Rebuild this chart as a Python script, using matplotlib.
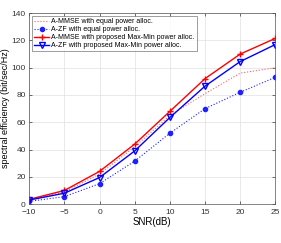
import matplotlib
matplotlib.use('Agg')
import matplotlib.pyplot as plt

snr = [-10, -5, 0, 5, 10, 15, 20, 25]
mmse_equal = [3, 9, 22, 42, 65, 81, 96, 100]
zf_equal = [2, 5.5, 15, 31.5, 52, 70, 82, 93]
mmse_maxmin = [3.5, 10, 24, 44, 68, 92, 110, 121.5]
zf_maxmin = [3, 8, 19.5, 39, 63.5, 86.5, 104.5, 117]

plt.rcParams['font.family'] = 'Liberation Sans'
fig = plt.figure(figsize=(2.81, 2.43), dpi=100)
ax = fig.add_axes([0.104, 0.16, 0.876, 0.786])

ax.plot(snr, mmse_equal, ':', color='#ff6060', lw=0.8,
        label='A-MMSE with equal power alloc.')
ax.plot(snr, zf_equal, ':', color='#2020ff', lw=0.8, marker='o', ms=3,
        label='A-ZF with equal power alloc.')
ax.plot(snr, mmse_maxmin, '-', color='red', lw=1.0, marker='+', ms=4,
        label='A-MMSE with proposed Max-Min power alloc.')
ax.plot(snr, zf_maxmin, '-', color='blue', lw=1.0, marker='v', ms=4,
        mfc='none', label='A-ZF with proposed Max-Min power alloc.')

ax.set_xlim(-10, 25)
ax.set_ylim(0, 140)
ax.set_xticks(snr)
ax.set_yticks(range(0, 141, 20))
ax.grid(True, color='#e0e0e0', lw=0.5)
ax.tick_params(direction='in', labelsize=6, length=2, width=0.5,
               colors='#333333', top=True, right=True)
ax.tick_params(axis='x', pad=3.5)
ax.tick_params(axis='y', pad=2.5)
for s in ax.spines.values():
    s.set_linewidth(0.5)
    s.set_color('#555555')
ax.set_xlabel('SNR(dB)', fontsize=7, labelpad=1)
ax.set_ylabel('spectral efficiency (bit/sec/Hz)', fontsize=6.5)
ax.yaxis.set_label_coords(-0.078, 0.5)
leg = ax.legend(loc='upper left', fontsize=5, frameon=True, fancybox=False,
                borderpad=0.3, labelspacing=0.15, handlelength=2.2,
                handletextpad=0.3, borderaxespad=0.4)
leg.get_frame().set_linewidth(0.5)
leg.get_frame().set_edgecolor('#555555')

fig.savefig('out.png', dpi=100)
